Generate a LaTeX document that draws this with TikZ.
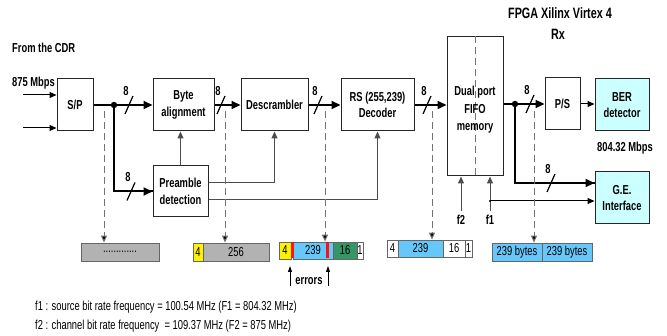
\documentclass[tikz,border=0pt]{standalone}
\usepackage{fontspec}
\newfontfamily\nf{Liberation Sans}[FakeStretch=0.72]
\usetikzlibrary{arrows.meta}
\definecolor{segblue}{RGB}{102,200,250}
\definecolor{seggreen}{RGB}{51,150,100}
\definecolor{segred}{RGB}{250,20,20}
\definecolor{boxcyan}{RGB}{204,255,255}
\definecolor{seggray}{RGB}{178,178,178}
\tikzset{
  blk/.style={draw=black!85, line width=1pt, fill=white, align=center,
    font=\nf\fontsize{13}{16.5}\selectfont\bfseries, inner sep=0pt},
  seg/.style={draw=black!60, line width=0.8pt, inner sep=0pt,
    font=\nf\fontsize{13}{14}\selectfont},
  lbl/.style={font=\nf\fontsize{13}{16}\selectfont\bfseries, inner sep=0pt},
  txt/.style={font=\nf\fontsize{13}{15}\selectfont, inner sep=0pt, anchor=west},
  thk/.style={line width=2pt, -{Triangle[length=9pt,width=8pt]}},
  thkl/.style={line width=2pt},
  thn/.style={line width=1pt, -{Triangle[length=7pt,width=6pt]}},
  gry/.style={line width=1pt, draw=black!70, -{Triangle[length=7pt,width=6pt]}},
  dsh/.style={line width=1pt, draw=black!55, dash pattern=on 7pt off 4pt,
    -{Triangle[length=7pt,width=6pt,fill=black]}},
  slashmark/.style={line width=1.2pt}
}
\newcommand{\bslash}[2]{%
  \draw[slashmark] (#1-4,#2+9) -- (#1+4,#2-9);
  \node[lbl] at (#1-3,#2-14) {8};}
\begin{document}
\begin{tikzpicture}[x=1pt,y=-1pt]
\useasboundingbox (0,0) rectangle (667,336);

% titles
\node[lbl, font=\nf\fontsize{15}{17}\selectfont\bfseries] (title) at (560,13) {FPGA Xilinx Virtex 4};
\node[lbl, font=\nf\fontsize{15}{17}\selectfont\bfseries] (rx) at (558,34) {Rx};
\node[lbl, anchor=west] (cdr) at (12,48) {From the CDR};
\node[lbl, anchor=west] (rate) at (12,83) {875 Mbps};
\node[lbl] (rate2) at (625,148) {804.32 Mbps};

% blocks
\node[blk, minimum width=36pt, minimum height=52pt] (sp) at (75,105) {S/P};
\node[blk, minimum width=61pt, minimum height=52pt] (byte) at (183.5,105) {Byte\\alignment};
\node[blk, minimum width=55pt, minimum height=51pt] (pre) at (180.5,191.5) {Preamble\\detection};
\node[blk, minimum width=67pt, minimum height=52pt] (desc) at (274.5,105) {Descrambler};
\node[blk, minimum width=73pt, minimum height=52pt] (rs) at (377.5,105) {RS (255,239)\\Decoder};
\node[blk, minimum width=56pt, minimum height=139pt, fill=none] (fifo) at (475,106.5) {};
\draw[line width=1pt, draw=black!55, dash pattern=on 7pt off 4pt] (fifo.north) -- (fifo.south);
\node[lbl, align=center, font=\nf\fontsize{13}{17.5}\selectfont\bfseries] (fifotxt) at (475,110) {Dual port\\FIFO\\memory};
\node[blk, minimum width=35pt, minimum height=52pt] (ps) at (562.5,104) {P/S};
\node[blk, fill=boxcyan, minimum width=54pt, minimum height=52pt] (ber) at (622,105) {BER\\detector};
\node[blk, fill=boxcyan, minimum width=54pt, minimum height=52pt] (ge) at (622,198) {G.E.\\Interface};

% inputs
\coordinate (in1) at (23,95);
\coordinate (in2) at (23,128);
\draw[thn] (in1) -- (in1 -| sp.west);
\draw[thn] (in2) -- (in2 -| sp.west);

% main path
\coordinate (dot1) at (114,105);
\draw[thkl] (sp.east) -- (dot1);
\fill (dot1) circle (3.2pt);
\draw[thk] (dot1) -- (byte.west);
\bslash{129}{105}
\draw[thkl] (dot1) |- (pre.west);
\draw[thk] ([xshift=-10pt]pre.west) -- (pre.west);
\bslash{131}{191.5}
\draw[thk] (byte.east) -- (desc.west);
\bslash{221}{105}
\draw[thk] (desc.east) -- (rs.west);
\bslash{318}{105}
\draw[thk] (rs.east) -- (rs.east -| fifo.west);
\bslash{427}{105}

% preamble control
\draw[gry] (pre.north) -- (pre.north |- byte.south);
\draw[gry] ([yshift=8.5pt]pre.east) -| (desc.south);
\draw[gry] ([yshift=-8.5pt]pre.east) -| (rs.south);

% fifo output
\coordinate (dot2) at (515,104);
\draw[thkl] (fifo.east |- dot2) -- (dot2);
\fill (dot2) circle (3.2pt);
\draw[thk] (dot2) -- (ps.west);
\bslash{530}{104}
\draw[thkl] (dot2) |- ([yshift=15pt]ge.west);
\draw[thk] ([xshift=-20pt,yshift=15pt]ge.west) -- ([yshift=15pt]ge.west);
\bslash{551}{183}
\draw[thn] (ps.east) -- (ps.east -| ber.west);

% clocks
\coordinate (f2c) at (461,211);
\coordinate (f1c) at (490,211);
\draw[gry] (f2c) -- (f2c |- fifo.south);
\draw[gry] (f1c) -- (f1c |- fifo.south);
\node[lbl] (f2l) at (461,220) {f2};
\node[lbl] (f1l) at (490,220) {f1};
\coordinate (f1d) at (490,201);
\fill (f1d) circle (1.2pt);
\draw[thn] (f1d) -- (f1d -| ge.west);

% bottom frames
\node[seg, fill=seggray, minimum width=78pt, minimum height=18pt] (g1) at (120,252) {.............};
\node[seg, fill=yellow, minimum width=10pt, minimum height=18pt] (b2y) at (198,252) {4};
\node[seg, fill=seggray, minimum width=66pt, minimum height=18pt] (b2g) at (236,252) {256};

\node[seg, fill=yellow, minimum width=12pt, minimum height=17pt] (b3y) at (285,250.5) {4};
\node[seg, fill=segblue, minimum width=40pt, minimum height=17pt] (b3b) at (313,250.5) {239};
\node[seg, fill=seggreen, minimum width=24pt, minimum height=17pt] (b3g) at (345,250.5) {16};
\node[seg, fill=white, minimum width=6pt, minimum height=17pt] (b3w) at (360,250.5) {1};
\node[seg, draw=none, fill=segred, minimum width=3pt, minimum height=16pt] (b3r1) at (292.5,250.5) {};
\node[seg, draw=none, fill=segred, minimum width=3pt, minimum height=16pt] (b3r2) at (327.5,250.5) {};

\node[seg, fill=white, minimum width=11pt, minimum height=17pt] (b4a) at (392.5,248.5) {4};
\node[seg, fill=segblue, minimum width=45pt, minimum height=17pt] (b4b) at (420.5,248.5) {239};
\node[seg, fill=white, minimum width=22pt, minimum height=17pt] (b4c) at (454,248.5) {16};
\node[seg, fill=white, minimum width=7pt, minimum height=17pt] (b4d) at (468.5,248.5) {1};

\node[seg, fill=segblue, minimum width=50pt, minimum height=18pt] (b5a) at (517,252) {239 bytes};
\node[seg, fill=segblue, minimum width=50pt, minimum height=18pt] (b5b) at (567,252) {239 bytes};

% dashed probes
\coordinate (d1) at (104,111);
\coordinate (d2) at (225,111);
\coordinate (d3) at (325,111);
\coordinate (d4) at (432,111);
\coordinate (d5) at (534,111);
\draw[dsh] (d1) -- (d1 |- g1.north);
\draw[dsh] (d2) -- (d2 |- b2g.north);
\draw[dsh] (d3) -- (d3 |- b3b.north);
\draw[dsh] (d4) -- (d4 |- b4b.north);
\draw[dsh] (d5) -- (d5 |- b5a.north);

% errors
\coordinate (e1) at (290,286);
\coordinate (e2) at (328,286);
\draw[line width=1pt, -{Triangle[length=6pt,width=4pt]}] (e1) -- (290,266);
\draw[line width=1pt, -{Triangle[length=6pt,width=4pt]}] (e2) -- (328,266);
\node[lbl] (err) at (309,281) {errors};

% legend
\node[txt] (leg1) at (35,307) {f1 : source bit rate frequency = 100.54 MHz (F1 = 804.32 MHz)};
\node[txt] (leg2) at (35,326) {f2 : channel bit rate frequency \ = 109.37 MHz (F2 = 875 MHz)};
\end{tikzpicture}
\end{document}
